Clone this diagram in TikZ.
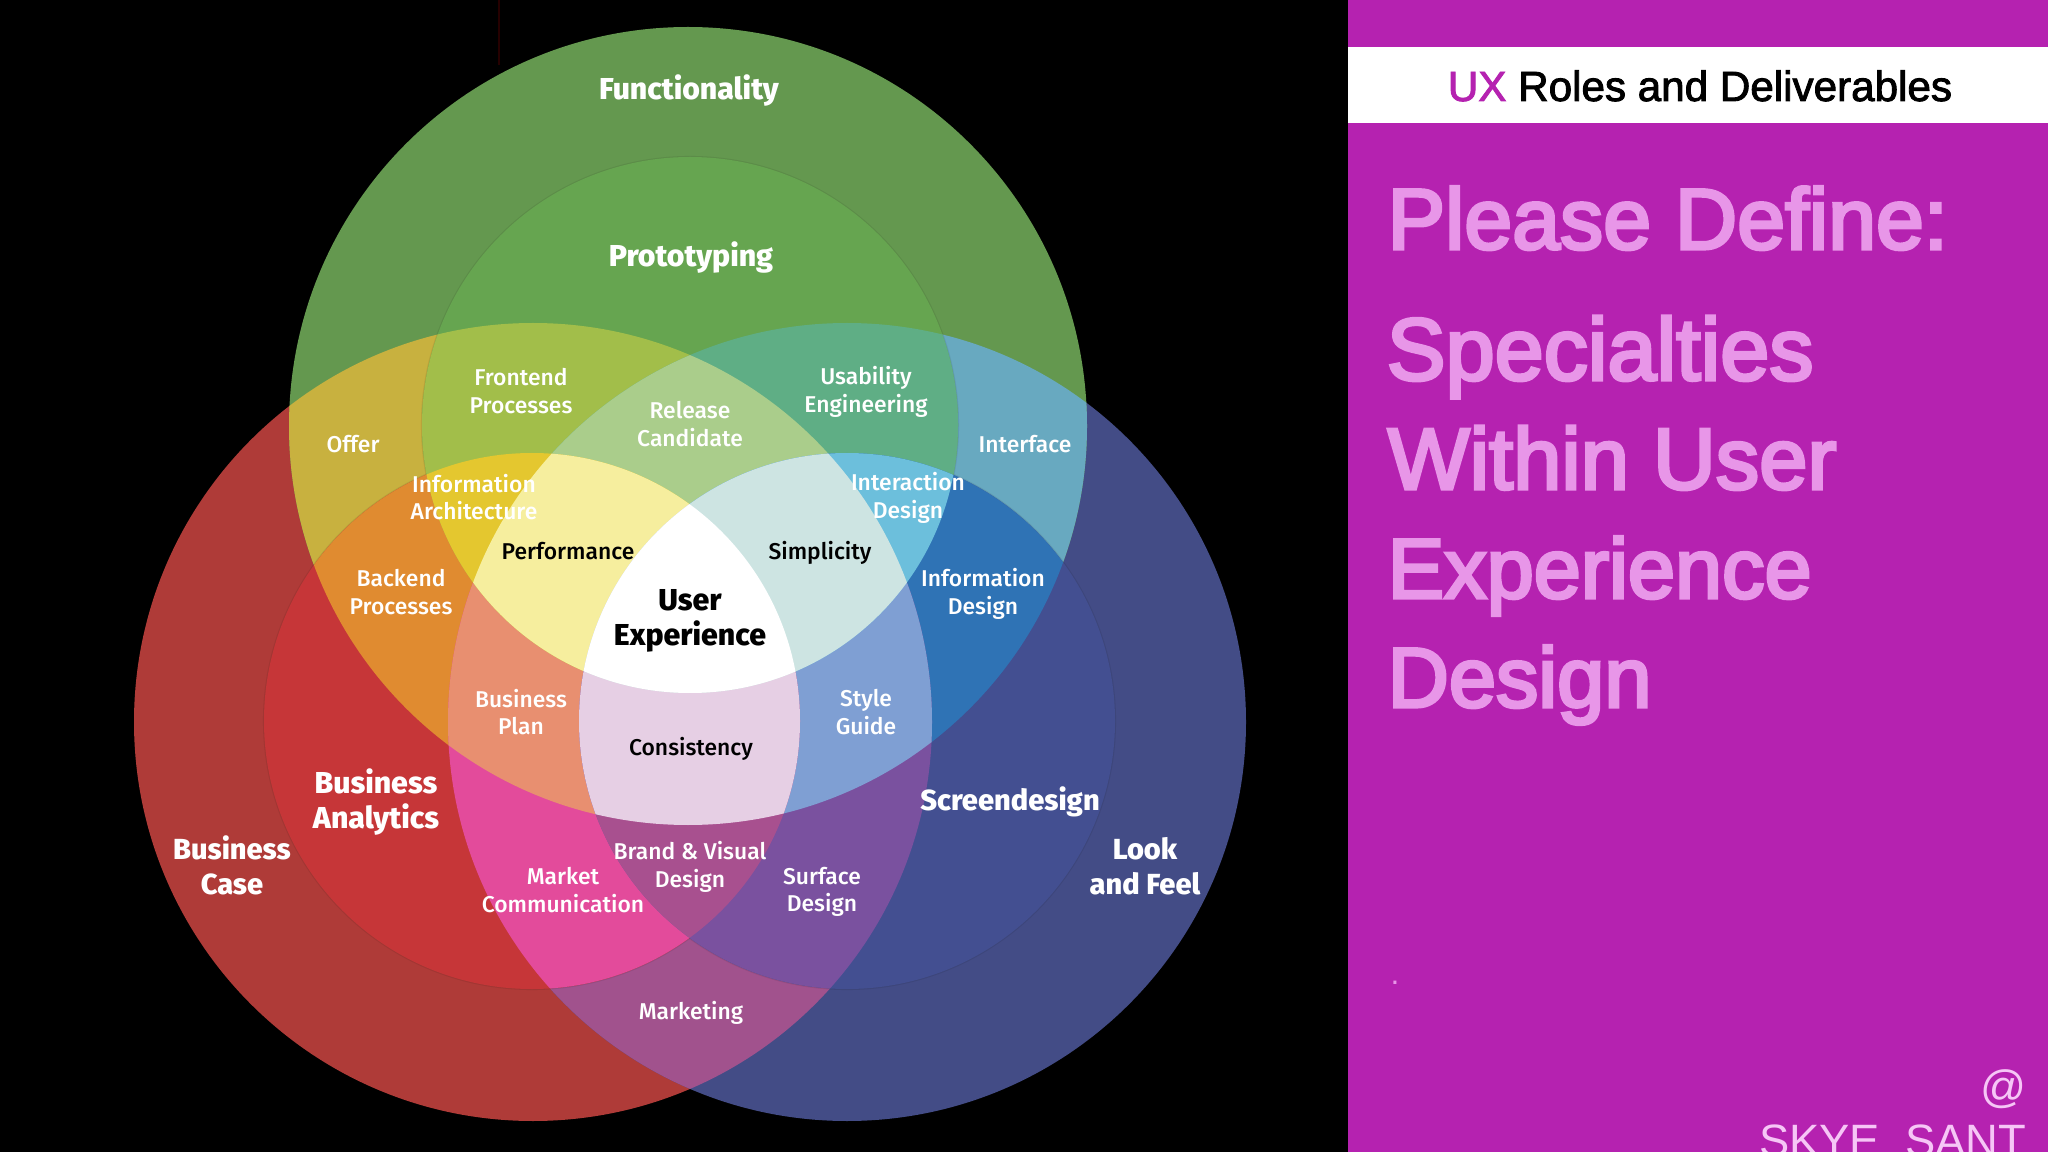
\documentclass[tikz,border=0pt]{standalone}
\usepackage{fontspec}
\usepackage{xcolor}
\usepackage{tikz}
\usetikzlibrary{calc}
\setmainfont{Liberation Sans}
\newfontfamily\vennfont[UprightFont=* Medium]{Fira Sans}
\newcommand{\heavy}[2]{\special{pdf:code q 2 Tr #1 w}#2\special{pdf:code Q}}

\definecolor{panelpurple}{HTML}{B522B0}
\definecolor{headpink}{HTML}{E896E8}
\definecolor{signpink}{HTML}{F6C6F6}
% single circles
\definecolor{caseRed}{HTML}{AF3B38}
\definecolor{lookBlue}{HTML}{434C86}
\definecolor{funcGreen}{HTML}{64984F}
\definecolor{analyticsRed}{HTML}{C63638}
\definecolor{screenBlue}{HTML}{434F91}
\definecolor{protoGreen}{HTML}{66A550}
% overlaps
\definecolor{marketingTint}{HTML}{A1528D}
\definecolor{offerTint}{HTML}{C8B13F}
\definecolor{interfaceTint}{HTML}{68A9C0}
\definecolor{backendTint}{HTML}{E08B30}
\definecolor{marketTint}{HTML}{E34B9B}
\definecolor{frontendTint}{HTML}{A2BE4A}
\definecolor{usabilityTint}{HTML}{5FAE85}
\definecolor{infodesignTint}{HTML}{2F73B5}
\definecolor{surfaceTint}{HTML}{7A519F}
\definecolor{planTint}{HTML}{E88F70}
\definecolor{releaseTint}{HTML}{AACD8B}
\definecolor{styleTint}{HTML}{7F9FD3}
\definecolor{archTint}{HTML}{E4C72F}
\definecolor{brandTint}{HTML}{A8508F}
\definecolor{interactTint}{HTML}{6CBFDC}
\definecolor{perfTint}{HTML}{F6EE9E}
\definecolor{consistTint}{HTML}{E6CFE4}
\definecolor{simpleTint}{HTML}{CDE4E2}

% the six circles
\def\bigG{(688,426) circle (399)}
\def\bigR{(533,722) circle (399)}
\def\bigB{(847,722) circle (399)}
\def\midG{(690,425) circle (268)}
\def\midR{(532,721) circle (268)}
\def\midB{(847,721) circle (268)}

\tikzset{
    venntext/.style={align=center, inner sep=0pt, text=white, font=\vennfont\fontsize{6.5}{7.8}\selectfont},
    vennbig/.style={venntext, font=\vennfont\bfseries\fontsize{8.6}{9.9}\selectfont},
    vennside/.style={venntext, font=\vennfont\bfseries\fontsize{8.25}{9.9}\selectfont},
    venndark/.style={venntext, text=black},
    panelhead/.style={anchor=base west, inner sep=0pt, text=headpink, font=\fontsize{#1}{#1}\selectfont},
    panelsign/.style={anchor=base east, inner sep=0pt, text=signpink, font=\fontsize{12.9}{12.9}\selectfont}
}

\begin{document}
\begin{tikzpicture}[x=0.01cm, y=-0.01cm]
    \useasboundingbox (0,0) rectangle (2048,1152);
    \fill[black] (0,0) rectangle (2048,1152);
    \draw[line width=0.5pt, color=black!85!red] (499,0) -- (499,65);

    % Big circles and their overlaps
    \foreach \tint/\ca/\cb in {
        caseRed/\bigR/\bigR, lookBlue/\bigB/\bigB, funcGreen/\bigG/\bigG,
        marketingTint/\bigR/\bigB, offerTint/\bigG/\bigR, interfaceTint/\bigG/\bigB} {
        \begin{scope}
            \clip \ca;
            \clip \cb;
            \fill[\tint] (0,0) rectangle (1348,1152);
        \end{scope}
    }
    \foreach \ca in {\midR,\midB,\midG} {
        \draw[black, opacity=0.08, line width=0.6pt] \ca;
    }

    % Middle circles and their overlaps
    \foreach \tint/\ca/\cb/\cc in {
        analyticsRed/\midR/\midR/\midR, screenBlue/\midB/\midB/\midB, protoGreen/\midG/\midG/\midG,
        backendTint/\midR/\bigG/\bigG, marketTint/\midR/\bigB/\bigB,
        frontendTint/\midG/\bigR/\bigR, usabilityTint/\midG/\bigB/\bigB,
        infodesignTint/\midB/\bigG/\bigG, surfaceTint/\midB/\bigR/\bigR,
        planTint/\midR/\bigG/\bigB, releaseTint/\midG/\bigR/\bigB, styleTint/\midB/\bigG/\bigR,
        archTint/\midG/\midR/\midR, brandTint/\midR/\midB/\midB, interactTint/\midG/\midB/\midB,
        perfTint/\midG/\midR/\bigB, consistTint/\midR/\midB/\bigG, simpleTint/\midG/\midB/\bigR,
        white/\midG/\midR/\midB} {
        \begin{scope}
            \clip \ca;
            \clip \cb;
            \clip \cc;
            \fill[\tint] (0,0) rectangle (1348,1152);
        \end{scope}
    }

    % Venn labels
    \node[vennbig] (functionality) at (689,91) {Functionality};
    \node[vennbig] (prototyping) at (691,258) {Prototyping};
    \node[venntext] (frontend) at (521,391) {Frontend\\Processes};
    \node[venntext] (release) at (690,424) {Release\\Candidate};
    \node[venntext] (usability) at (866,392) {Usability\\Engineering};
    \node[venntext] (offer) at (353,444) {Offer};
    \node[venntext] (interface) at (1025,444) {Interface};
    \node[venntext] (architecture) at (474,497) {Information\\Architecture};
    \node[venntext] (interaction) at (908,498) {Interaction\\Design};
    \node[venndark] (performance) at (568,551) {Performance};
    \node[venndark] (simplicity) at (820,553) {Simplicity};
    \node[venntext] (backend) at (401,592) {Backend\\Processes};
    \node[venntext] (infodesign) at (983,594) {Information\\Design};
    \node[vennbig, text=black] (userexp) at (690,621) {User\\Experience};
    \node[venntext] (plan) at (521,712) {Business\\Plan};
    \node[venntext] (styleguide) at (866,712) {Style\\Guide};
    \node[venndark] (consistency) at (691,749) {Consistency};
    \node[vennside] (screendesign) at (1010,802) {Screendesign};
    \node[vennbig] (analytics) at (376,802) {Business\\Analytics};
    \node[vennside] (bizcase) at (232,865) {Business\\Case};
    \node[vennside] (lookfeel) at (1145,866) {Look\\and Feel};
    \node[venntext] (brand) at (690,867) {Brand \& Visual\\Design};
    \node[venntext] (market) at (563,890) {Market\\Communication};
    \node[venntext] (surface) at (822,892) {Surface\\Design};
    \node[venntext] (marketing) at (691,1013) {Marketing};

    % Right panel
    \fill[panelpurple] (1348,0) rectangle (2048,1152);
    \fill[white] (1348,47) rectangle (2048,123);
    \node[anchor=base, inner sep=0pt, font=\fontsize{12}{12}\selectfont] (strip) at (1700,101) {\heavy{0.25}{\textcolor{panelpurple}{UX} Roles and Deliverables}};
    \node[panelhead=24.5] (define) at (1387,249) {\heavy{0.9}{Please Define:}};
    \node[panelhead=25.1] (line1) at (1386,380) {\heavy{0.9}{Specialties}};
    \node[panelhead=24.7] (line2) at (1387,489) {\heavy{0.9}{Within User}};
    \node[panelhead=24.1] (line3) at (1387,598) {\heavy{0.9}{Experience}};
    \node[panelhead=24.1] (line4) at (1387,707) {\heavy{0.9}{Design}};
    \node[anchor=base, inner sep=0pt, text=headpink, font=\fontsize{9}{9}\selectfont] (dot) at (1395,984) {.};
    \node[panelsign] (at) at (2027,1102) {@};
    \node[panelsign] (sign) at (2027,1156) {SKYE\ \ SANT};
\end{tikzpicture}
\end{document}
